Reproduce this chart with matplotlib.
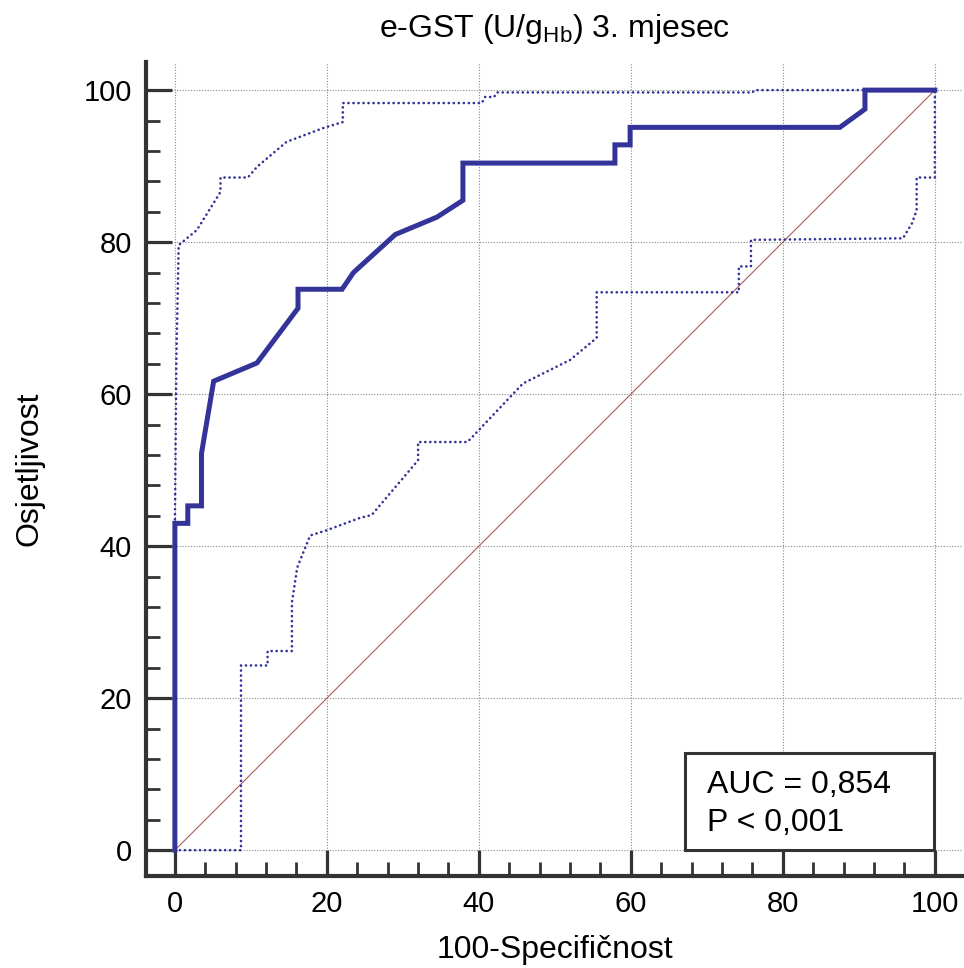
import matplotlib
matplotlib.use("Agg")
import matplotlib.pyplot as plt
from matplotlib.ticker import MultipleLocator
from matplotlib.patches import Rectangle

plt.rcParams['font.family'] = ['Liberation Sans', 'DejaVu Sans']
plt.rcParams['mathtext.fontset'] = 'custom'
plt.rcParams['mathtext.rm'] = 'Liberation Sans'
plt.rcParams['mathtext.it'] = 'Liberation Sans:italic'

# ROC curve (100-specificity, sensitivity)
roc_fpr = [0, 0, 1.7, 1.7, 3.5, 3.5, 5.1, 10.8, 16.2, 16.2, 22.0, 23.5, 29.0, 34.5,
           37.9, 37.9, 57.9, 57.9, 59.9, 59.9, 87.5, 90.8, 90.8, 100]
roc_tpr = [0, 43.0, 43.0, 45.3, 45.3, 52.2, 61.7, 64.1, 71.3, 73.8, 73.8, 76.0, 81.0, 83.3,
           85.5, 90.4, 90.4, 92.8, 92.8, 95.1, 95.1, 97.5, 100, 100]

# upper confidence bound
up_x = [0, 0, 0.2, 0.5, 2.9, 6.0, 6.0, 9.6, 10.8, 14.7, 19.5, 22.1, 22.1, 40.4, 40.8,
        42.0, 42.4, 76.0, 76.3, 100]
up_y = [0, 43, 65, 79.6, 81.6, 86.6, 88.5, 88.5, 89.9, 93.2, 95.0, 95.8, 98.3, 98.3, 99.1,
        99.1, 99.7, 99.7, 100, 100]

# lower confidence bound
lo_x = [0, 8.7, 8.7, 12.2, 12.2, 15.4, 15.4, 16.1, 17.8, 20.0, 24.3, 25.9, 32.0, 32.0,
        38.5, 45.8, 52.0, 55.5, 55.5, 74.2, 74.2, 75.8, 75.8, 95.8, 97.0, 97.6, 97.6,
        100, 100]
lo_y = [0, 0, 24.3, 24.3, 26.2, 26.2, 32.6, 37.2, 41.4, 42.1, 43.7, 44.1, 51.3, 53.7,
        53.7, 61.4, 64.5, 67.4, 73.4, 73.4, 76.8, 76.8, 80.3, 80.5, 82.5, 84.2, 88.5,
        88.5, 100]

diag = [0, 100]
major_ticks = [0, 20, 40, 60, 80, 100]
auc_text = "AUC = 0,854"
p_text = "P < 0,001"
title = r"e-GST (U/g$_{\mathrm{Hb}}$) 3. mjesec"
xlabel = "100-Specifičnost"
ylabel = "Osjetljivost"

W, H = 964, 968
fig = plt.figure(figsize=(W / 100, H / 100), dpi=100)
ax = fig.add_axes([146 / W, 1 - 876 / H, (963 - 146) / W, (876 - 62) / H])

ax.set_xlim(-3.8, 103.7)
ax.set_ylim(-3.4, 103.7)

navy = '#333399'
ax.plot(diag, diag, color='#a85a5a', lw=0.8, zorder=2)
for cx, cy in [(up_x, up_y), (lo_x, lo_y)]:
    ax.plot(cx, cy, color=navy, lw=1.9, linestyle=(0, (0.05, 1.85)),
            dash_capstyle='round', zorder=3)
ax.plot(roc_fpr, roc_tpr, color=navy, lw=3.6, solid_joinstyle='miter', zorder=4)

ax.set_xticks(major_ticks)
ax.set_yticks(major_ticks)
ax.xaxis.set_minor_locator(MultipleLocator(4))
ax.yaxis.set_minor_locator(MultipleLocator(4))
ax.grid(True, which='major', color='#8a8a8a', lw=0.8, linestyle=(0, (1, 1.5)), zorder=1)

for s in ['top', 'right']:
    ax.spines[s].set_visible(False)
for s in ['left', 'bottom']:
    ax.spines[s].set_linewidth(3)
    ax.spines[s].set_color('#333333')

ax.tick_params(which='major', direction='in', length=19, width=2.3, color='#333333',
               labelsize=21, pad=10)
ax.tick_params(which='minor', direction='in', length=10, width=2.0, color='#333333')

ax.set_title(title, fontsize=23, pad=18)
ax.set_xlabel(xlabel, fontsize=23, labelpad=12)
ax.set_ylabel(ylabel, fontsize=23, labelpad=28)

box = Rectangle((67.1, 0), 32.8, 12.8, facecolor='white', edgecolor='#333333', lw=2.2,
                zorder=5)
ax.add_patch(box)
ax.text(70, 7.5, auc_text, fontsize=23, zorder=6, va='baseline')
ax.text(70, 2.5, p_text, fontsize=23, zorder=6, va='baseline')

fig.savefig('out.png', dpi=100)
